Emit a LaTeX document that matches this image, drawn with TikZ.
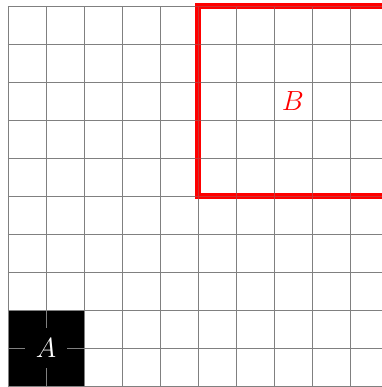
\documentclass[tikz,border=0pt]{standalone}
\begin{document}
\begin{tikzpicture}[
  gridline/.style={gray, line width=0.6pt},
  redbox/.style={draw=red, line width=5pt},
  labelfont/.style={font=\fontsize{20.5}{24}\selectfont}
]
\clip (-0.2105,-0.0263) rectangle (9.842,10.158);
\fill[black] (0,0) rectangle (2,2);
\draw[gridline] (0,0) grid (10,10);
\draw[redbox] (5,5) rectangle (10,10);
\draw[gridline, opacity=0.4] (0,0) grid (10,10);
\node[labelfont, fill=black, text=white, inner sep=8pt] (A) at (1,1) {$A$};
\node[labelfont, text=red] (B) at (7.5,7.5) {$B$};
\end{tikzpicture}
\end{document}
